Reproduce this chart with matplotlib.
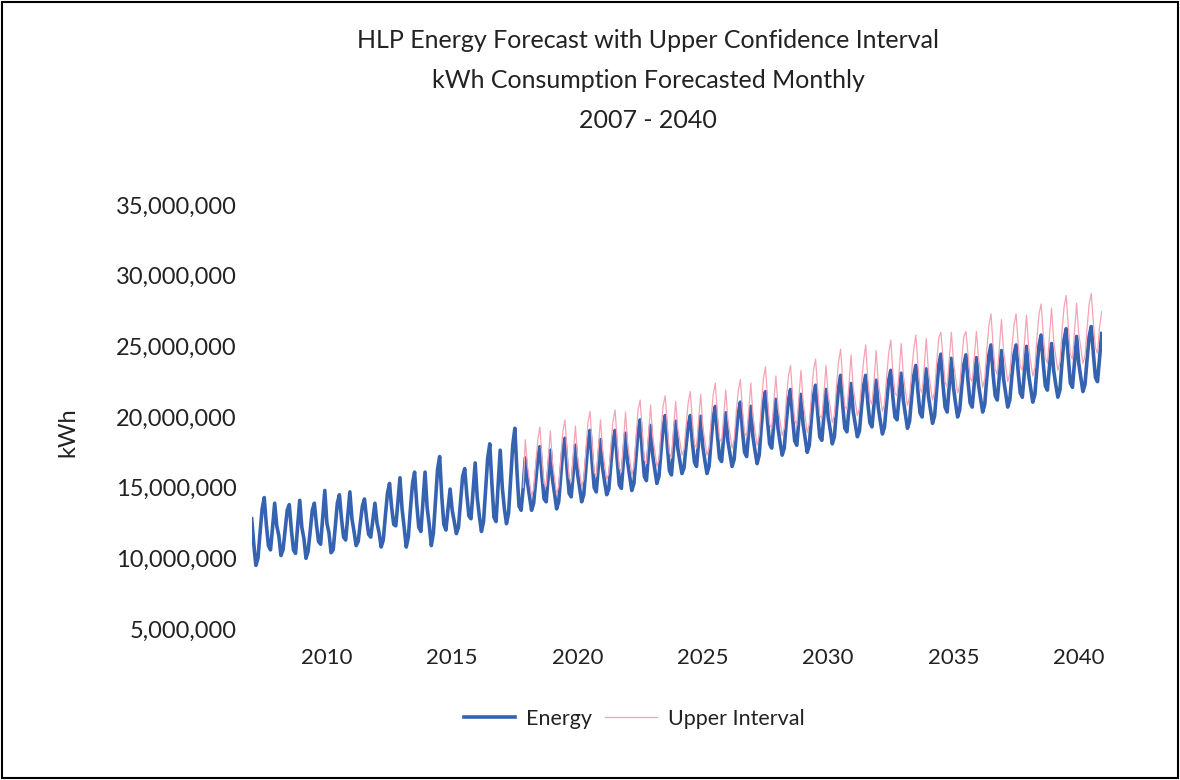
import numpy as np
import matplotlib
matplotlib.use("Agg")
from matplotlib import pyplot as plt
from matplotlib.patches import Rectangle
from matplotlib.ticker import FuncFormatter

plt.rcParams['font.family'] = ['Lato', 'DejaVu Sans']

first_year = 2007

# monthly energy, million kWh, one row per year (Jan..Dec)
energy = [
    12.8, 11.0, 9.5, 10.0, 11.8, 13.5, 14.3, 12.4, 10.9, 10.6, 12.2, 13.9,     # 2007
    12.3, 11.6, 10.2, 10.6, 12.0, 13.4, 13.8, 12.0, 10.6, 10.35, 12.3, 14.1,   # 2008
    12.2, 11.4, 10.0, 10.5, 11.9, 13.4, 13.9, 12.4, 11.2, 11.0, 12.9, 14.8,    # 2009
    12.5, 11.8, 10.4, 10.6, 12.2, 13.9, 14.5, 12.8, 11.5, 11.3, 13.0, 14.7,    # 2010
    12.8, 11.9, 10.9, 11.2, 12.5, 13.7, 14.2, 12.8, 11.7, 11.5, 12.7, 13.9,    # 2011
    12.5, 11.8, 10.8, 11.3, 13.0, 14.6, 15.3, 13.6, 12.4, 12.3, 14.0, 15.7,    # 2012
    13.5, 12.2, 10.8, 11.5, 13.5, 15.3, 16.1, 13.9, 12.2, 11.9, 14.0, 16.1,    # 2013
    13.6, 12.4, 10.9, 11.8, 14.0, 16.3, 17.2, 14.4, 12.4, 12.0, 13.5, 14.9,    # 2014
    13.4, 12.6, 11.75, 12.2, 14.0, 15.8, 16.35, 14.5, 13.0, 12.8, 14.8, 16.75, # 2015
    14.3, 13.0, 11.9, 12.6, 14.8, 17.1, 18.1, 15.3, 12.9, 12.6, 15.2, 17.65,   # 2016
    15.0, 13.5, 12.45, 13.2, 15.6, 18.0, 19.2, 16.2, 13.7, 13.4, 15.0, 17.1,   # 2017
    15.4, 14.4, 13.4, 13.9, 15.5, 17.1, 17.9, 15.8, 14.2, 14.0, 15.8, 17.65,   # 2018
    15.6, 14.6, 13.5, 14.0, 15.9, 17.7, 18.5, 16.3, 14.6, 14.35, 16.2, 18.0,   # 2019
    16.0, 15.0, 14.0, 14.5, 16.4, 18.2, 19.05, 16.8, 15.0, 14.7, 16.6, 18.4,   # 2020
    16.4, 15.4, 14.5, 14.9, 16.7, 18.3, 19.05, 17.0, 15.2, 14.95, 16.9, 18.85, # 2021
    16.8, 15.8, 14.8, 15.3, 17.2, 19.0, 19.8, 17.6, 15.8, 15.5, 17.5, 19.4,    # 2022
    17.3, 16.3, 15.3, 15.8, 17.6, 19.3, 20.1, 18.0, 16.2, 15.9, 17.8, 19.7,    # 2023
    17.8, 16.9, 16.0, 16.4, 18.0, 19.4, 20.1, 18.2, 16.8, 16.5, 18.3, 20.05,   # 2024
    17.9, 16.9, 16.0, 16.5, 18.4, 20.0, 20.75, 18.7, 17.1, 16.85, 18.6, 20.3,  # 2025
    18.3, 17.4, 16.5, 17.0, 18.8, 20.3, 21.05, 19.0, 17.5, 17.2, 19.0, 20.75,  # 2026
    18.6, 17.6, 16.7, 17.3, 19.3, 21.0, 21.8, 19.7, 18.1, 17.8, 19.5, 21.25,   # 2027
    19.2, 18.2, 17.3, 17.8, 19.7, 21.2, 21.95, 19.9, 18.3, 18.0, 19.8, 21.6,   # 2028
    19.5, 18.5, 17.5, 18.0, 19.9, 21.5, 22.25, 20.3, 18.6, 18.35, 20.1, 21.95, # 2029
    20.0, 19.1, 18.1, 18.6, 20.5, 22.1, 22.95, 20.8, 19.2, 18.95, 20.6, 22.37, # 2030
    20.4, 19.5, 18.6, 19.0, 20.7, 22.2, 22.95, 21.0, 19.6, 19.3, 20.9, 22.6,   # 2031
    20.7, 19.7, 18.8, 19.3, 21.0, 22.6, 23.3, 21.4, 20.0, 19.8, 21.4, 23.1,    # 2032
    21.2, 20.2, 19.2, 19.7, 21.4, 22.9, 23.65, 21.8, 20.3, 20.0, 21.7, 23.4,   # 2033
    21.5, 20.5, 19.55, 20.1, 22.0, 23.7, 24.45, 22.3, 20.7, 20.35, 22.2, 24.15, # 2034
    22.1, 21.0, 20.0, 20.5, 22.2, 23.7, 24.4, 22.5, 21.0, 20.7, 22.4, 24.2,    # 2035
    22.3, 21.3, 20.35, 20.9, 22.8, 24.4, 25.1, 23.0, 21.5, 21.2, 22.9, 24.7,   # 2036
    22.7, 21.7, 20.7, 21.2, 22.9, 24.4, 25.1, 23.2, 21.7, 21.4, 23.2, 25.0,    # 2037
    23.0, 22.0, 21.05, 21.6, 23.5, 25.1, 25.8, 23.8, 22.2, 21.9, 23.6, 25.2,   # 2038
    23.3, 22.3, 21.4, 21.9, 23.9, 25.5, 26.25, 24.2, 22.4, 22.1, 23.9, 25.7,   # 2039
    23.8, 22.8, 21.8, 22.3, 24.1, 25.7, 26.4, 24.5, 22.8, 22.5, 24.2, 25.9,    # 2040
]

# upper confidence interval, million kWh, starts Nov 2017
upper_start = (2017, 11)
upper = [
    15.0, 18.4,                                                                # 2017
    16.6, 15.5, 14.4, 14.9, 16.7, 18.4, 19.3, 17.0, 15.3, 15.1, 17.0, 19.0,    # 2018
    16.8, 15.7, 14.5, 15.1, 17.1, 19.0, 19.8, 17.5, 15.7, 15.4, 17.4, 19.35,   # 2019
    17.2, 16.1, 15.1, 15.6, 17.6, 19.6, 20.4, 18.1, 16.1, 15.8, 17.8, 19.8,    # 2020
    17.7, 16.6, 15.6, 16.0, 18.0, 19.7, 20.5, 18.3, 16.4, 16.1, 18.2, 20.35,   # 2021
    18.1, 17.0, 15.9, 16.5, 18.5, 20.5, 21.2, 19.0, 17.0, 16.7, 18.8, 20.85,   # 2022
    18.6, 17.6, 16.5, 17.0, 19.0, 20.8, 21.5, 19.4, 17.5, 17.1, 19.2, 21.1,    # 2023
    19.2, 18.3, 17.3, 17.7, 19.4, 21.0, 21.8, 19.7, 18.1, 17.8, 19.8, 21.6,    # 2024
    19.3, 18.3, 17.3, 17.8, 19.9, 21.6, 22.4, 20.2, 18.5, 18.2, 20.1, 21.9,    # 2025
    19.8, 18.8, 17.8, 18.4, 20.3, 21.9, 22.65, 20.5, 18.9, 18.6, 20.5, 22.4,   # 2026
    20.1, 19.0, 18.0, 18.7, 20.8, 22.7, 23.55, 21.3, 19.5, 19.2, 21.1, 22.9,   # 2027
    20.7, 19.7, 18.7, 19.2, 21.3, 22.9, 23.65, 21.5, 19.8, 19.4, 21.4, 23.3,   # 2028
    21.1, 20.0, 18.9, 19.5, 21.5, 23.3, 24.1, 22.0, 20.1, 19.9, 21.7, 23.65,   # 2029
    21.6, 20.7, 19.6, 20.1, 22.2, 23.9, 24.8, 22.5, 20.8, 20.5, 22.3, 24.4,    # 2030
    22.1, 21.1, 20.1, 20.6, 22.4, 24.0, 25.1, 22.7, 21.2, 20.9, 22.6, 24.7,    # 2031
    22.5, 21.4, 20.4, 20.9, 22.8, 24.5, 25.45, 23.2, 21.7, 21.5, 23.2, 25.2,   # 2032
    23.0, 21.9, 20.8, 21.4, 23.2, 24.8, 25.8, 23.7, 22.0, 21.7, 23.5, 25.55,   # 2033
    23.3, 22.2, 21.2, 21.8, 23.9, 25.6, 26.0, 24.2, 22.5, 22.1, 24.1, 26.0,    # 2034
    24.0, 22.8, 21.7, 22.2, 24.1, 25.7, 26.05, 24.4, 22.8, 22.5, 24.3, 26.05,  # 2035
    24.2, 23.2, 22.1, 22.7, 24.8, 26.5, 27.3, 25.0, 23.4, 23.0, 24.9, 26.9,    # 2036
    24.7, 23.6, 22.5, 23.1, 24.9, 26.5, 27.3, 25.2, 23.6, 23.3, 25.2, 27.2,    # 2037
    25.0, 23.9, 22.9, 23.5, 25.6, 27.3, 28.0, 25.9, 24.2, 23.8, 25.7, 27.7,    # 2038
    25.4, 24.3, 23.3, 23.9, 26.1, 27.8, 28.6, 26.4, 24.4, 24.1, 26.1, 28.05,   # 2039
    25.9, 24.9, 23.8, 24.3, 26.3, 28.0, 28.75, 26.7, 24.9, 24.5, 26.4, 27.45,  # 2040
]

tick_years = [2010, 2015, 2020, 2025, 2030, 2035, 2040]
y_ticks = [5e6, 10e6, 15e6, 20e6, 25e6, 30e6, 35e6]

title_lines = ["HLP Energy Forecast with Upper Confidence Interval",
               "kWh Consumption Forecasted Monthly",
               "2007 - 2040"]

# x = months since Jan of first_year
x_energy = np.arange(len(energy))
u0 = (upper_start[0] - first_year) * 12 + upper_start[1] - 1
x_upper = np.arange(len(upper)) + u0

fig = plt.figure(figsize=(11.8, 7.8), dpi=100)
ax = fig.add_axes([251.7 / 1180, 1 - 629 / 780, 850 / 1180, 424 / 780])

ax.plot(x_energy, np.array(energy) * 1e6, color="#3563B2", lw=2.6,
        label="Energy", solid_joinstyle="round", zorder=2)
ax.plot(x_upper, np.array(upper) * 1e6, color="#F5A3B5", lw=0.9,
        label="Upper Interval", zorder=3)

ax.set_xlim(0, len(energy) - 1)
ax.set_ylim(5e6, 35e6)
ax.set_xticks([(y - first_year) * 12 for y in tick_years])
ax.set_xticklabels([str(y) for y in tick_years])
ax.set_yticks(y_ticks)
ax.yaxis.set_major_formatter(FuncFormatter(lambda v, p: "{:,.0f}".format(v)))
ax.tick_params(axis="both", length=0, labelsize=16, colors="#222222")
ax.tick_params(axis="y", pad=11, labelsize=17)
ax.tick_params(axis="x", pad=14)
for s in ax.spines.values():
    s.set_visible(False)

for i, line in enumerate(title_lines):
    fig.text(648 / 1180, 1 - (40 + 40 * i) / 780, line, ha="center",
             va="center", fontsize=18, color="#222222")

fig.text(68 / 1180, 1 - 432 / 780, "kWh", rotation=90, ha="center",
         va="center", fontsize=17, color="#222222")

fig.legend(loc="center", bbox_to_anchor=(634 / 1180, 1 - 719 / 780), ncol=2,
           frameon=False, fontsize=15.5, handlelength=2.4, handletextpad=0.5,
           columnspacing=0.6, labelcolor="#222222")

fig.patches.append(Rectangle((0.002, 0.003), 0.996, 0.994, transform=fig.transFigure,
                             fill=False, edgecolor="black", lw=1.5))

fig.savefig("out.png", dpi=100)
